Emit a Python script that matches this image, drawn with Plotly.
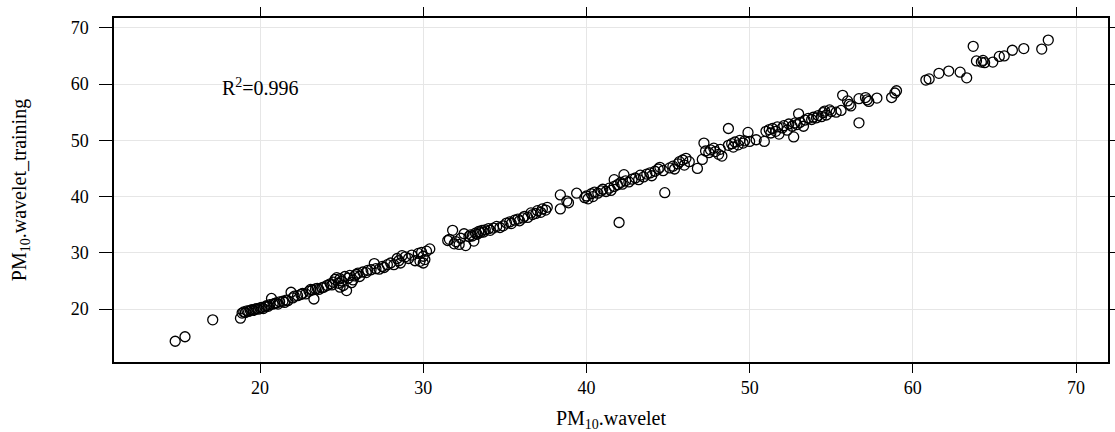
import plotly.graph_objects as go

pm10_wavelet = [
    14.8, 15.4, 17.1, 18.8, 18.9, 19.0,
    19.1, 19.2, 19.3, 19.4, 19.5, 19.6, 19.7, 19.8, 19.9, 20.0, 20.1, 20.2, 20.3, 20.4,
    20.5, 20.6, 20.7, 20.8, 20.9, 21.0, 21.1, 21.2, 21.4, 21.5, 21.6, 21.7, 21.9, 22.0,
    22.1, 22.3, 22.5, 22.6, 22.8, 23.0, 23.1, 23.2, 23.3, 23.4, 23.5, 23.6, 23.8, 23.9,
    24.1, 24.3, 24.4, 24.5, 24.6, 24.7, 24.8, 24.9, 24.9, 25.0, 25.1, 25.2, 25.3, 25.4,
    25.5, 25.6, 25.7, 25.8, 25.9, 26.0, 26.1, 26.3, 26.5, 26.6, 26.8, 27.0, 27.1, 27.3,
    27.5, 27.6, 27.8, 28.0, 28.2, 28.4, 28.5, 28.6, 28.7, 28.9, 29.1, 29.3, 29.5, 29.7,
    29.8, 29.9, 30.0, 30.0, 30.1, 30.2, 30.4,
    31.5, 31.6, 31.8, 31.9, 32.0, 32.2, 32.3, 32.5, 32.6, 32.8, 32.9, 33.0, 33.1, 33.2,
    33.3, 33.4, 33.5, 33.6, 33.7, 33.8, 34.0, 34.1, 34.3, 34.5, 34.7, 34.9, 35.1, 35.3,
    35.4, 35.6, 35.8, 35.9, 36.1, 36.2, 36.4, 36.6, 36.7, 36.9, 37.0, 37.2, 37.3, 37.5,
    37.6, 38.4, 38.4, 38.8, 38.9, 39.4,
    39.9, 40.0, 40.1, 40.3, 40.4, 40.5, 40.7, 40.9, 41.0, 41.2, 41.4, 41.5, 41.7, 41.7,
    41.9, 42.0, 42.1, 42.2, 42.3, 42.4, 42.6, 42.8, 43.0, 43.2, 43.3, 43.5, 43.7, 43.9,
    44.0, 44.2, 44.4, 44.5, 44.7, 44.8, 45.1, 45.3, 45.4, 45.6, 45.7, 45.9, 46.0, 46.1,
    46.3, 46.8,
    47.1, 47.2, 47.3, 47.5, 47.6, 47.8, 47.9, 48.1, 48.2, 48.3, 48.7, 48.7, 48.9, 49.0,
    49.1, 49.3, 49.4, 49.6, 49.7, 49.9, 50.0, 50.4,
    50.9, 51.0, 51.2, 51.3, 51.4, 51.6, 51.7, 51.8, 52.0, 52.1, 52.3, 52.4, 52.6, 52.7,
    52.8, 52.9, 53.0, 53.1, 53.3, 53.4, 53.6, 53.8, 53.9, 54.1, 54.2, 54.4, 54.5, 54.6,
    54.7, 54.9, 55.0, 55.3, 55.6, 55.7, 56.0, 56.1, 56.2, 56.7, 56.7, 57.1, 57.2, 57.3,
    57.8, 58.7, 58.9, 59.0,
    60.8, 61.0, 61.6, 62.2, 62.9, 63.3, 63.7, 63.9, 64.2, 64.3, 64.4, 64.9, 65.3, 65.6,
    66.1, 66.8, 67.9, 68.3,
]

pm10_wavelet_training = [
    14.3, 15.1, 18.1, 18.4, 19.3, 19.5,
    19.4, 19.7, 19.6, 19.8, 19.9, 19.8, 20.0, 20.1, 20.0, 20.2, 20.3, 20.1, 20.4, 20.6,
    20.5, 20.8, 21.9, 20.9, 21.0, 21.1, 20.9, 21.3, 21.4, 21.2, 21.6, 21.5, 23.0, 22.0,
    22.3, 22.4, 22.6, 22.8, 22.7, 23.2, 23.5, 23.4, 21.8, 23.6, 23.7, 23.5, 23.8, 23.9,
    24.2, 24.5, 24.3, 24.8, 25.3, 25.6, 24.6, 23.9, 25.4, 25.0, 24.2, 25.8, 23.3, 25.5,
    26.0, 24.7, 25.2, 25.9, 26.2, 26.4, 25.8, 26.6, 26.5, 26.9, 27.0, 28.1, 27.2, 27.1,
    27.6, 27.4, 27.9, 28.2, 27.9, 29.0, 28.6, 28.2, 29.5, 29.3, 29.0, 29.6, 28.6, 29.9,
    28.5, 30.1, 29.4, 28.2, 28.8, 30.3, 30.7,
    32.2, 32.4, 34.0, 31.6, 32.0, 31.5, 32.6, 33.4, 31.3, 32.9, 33.2, 33.0, 32.1, 33.5,
    33.3, 33.8, 33.6, 34.0, 33.7, 34.1, 34.3, 34.0, 34.4, 34.7, 34.5, 34.8, 35.3, 35.5,
    35.2, 35.8, 36.0, 35.7, 36.2, 36.5, 36.3, 37.1, 36.8, 37.0, 37.5, 37.2, 37.8, 37.6,
    38.1, 40.3, 37.8, 39.2, 38.9, 40.6,
    39.8, 40.1, 39.6, 40.5, 40.0, 40.8, 40.6, 41.0, 41.3, 40.9, 41.5, 41.1, 41.8, 43.0,
    42.1, 35.4, 42.5, 42.2, 43.9, 42.8, 42.6, 43.1, 43.3, 43.0, 43.8, 43.5, 44.0, 44.2,
    43.7, 44.5, 44.9, 45.2, 44.6, 40.7, 45.1, 45.4, 44.9, 45.8, 46.2, 46.5, 45.6, 46.8,
    46.2, 45.0,
    46.6, 49.5, 48.1, 47.8, 48.3, 48.6, 48.0, 47.5, 48.4, 47.2, 52.1, 49.1, 49.4, 48.8,
    49.7, 49.2, 50.0, 49.5, 49.9, 51.4, 49.8, 50.1,
    49.8, 51.6, 51.9, 51.3, 52.1, 51.6, 52.4, 51.1, 52.2, 52.6, 51.8, 52.9, 52.5, 50.6,
    53.1, 52.8, 54.7, 53.2, 52.5, 53.6, 53.9, 53.7, 54.1, 54.0, 54.4, 54.2, 54.9, 55.2,
    54.5, 55.4, 55.1, 55.0, 55.3, 58.0, 57.0, 56.4, 56.1, 53.1, 57.4, 57.6, 57.2, 56.9,
    57.5, 57.6, 58.4, 58.8,
    60.7, 60.9, 61.9, 62.3, 62.1, 61.1, 66.7, 64.1, 63.9, 64.2, 63.8, 63.9, 64.9, 65.0,
    66.0, 66.3, 66.2, 67.8,
]

x_ticks = [20, 30, 40, 50, 60, 70]
y_ticks = [20, 30, 40, 50, 60, 70]
r2_label = "R<sup>2</sup>=0.996"

FONT = "Liberation Serif, Times New Roman, serif"

fig = go.Figure()
fig.add_trace(go.Scatter(
    x=pm10_wavelet, y=pm10_wavelet_training, mode="markers",
    marker=dict(symbol="circle-open", size=10, color="black", line=dict(width=1.3, color="black")),
    showlegend=False, hoverinfo="x+y",
))

fig.add_annotation(x=20.0, y=59.4, xref="x", yref="y", text=r2_label, showarrow=False,
                   font=dict(family=FONT, size=20, color="black"))

axis_common = dict(
    showline=True, linecolor="black", linewidth=1.5, mirror="ticks",
    ticks="outside", tickcolor="black", tickwidth=1.3,
    showgrid=True, gridcolor="#e6e6e6", gridwidth=1, zeroline=False,
    tickfont=dict(family=FONT, size=18, color="black"),
    automargin=False,
)

fig.update_xaxes(range=[11.05, 71.96], tickvals=x_ticks, ticklen=9,
                 title=dict(text="PM<sub>10</sub>.wavelet", font=dict(family=FONT, size=20, color="black"), standoff=16),
                 **axis_common)
fig.update_yaxes(range=[10.61, 71.73], tickvals=y_ticks, ticklen=13, ticklabelstandoff=7,
                 title=dict(text="PM<sub>10</sub>.wavelet_training", font=dict(family=FONT, size=20, color="black"), standoff=39),
                 **axis_common)

fig.update_layout(
    width=1115, height=432,
    autosize=False,
    margin=dict(l=114, r=7, t=18, b=70),
    paper_bgcolor="white", plot_bgcolor="white",
    font=dict(family=FONT, color="black"),
)

post = (
    "document.documentElement.style.overflow='hidden';"
    "document.body.style.overflow='hidden';"
    "document.body.style.margin='0';"
    "var gd=document.getElementById('{plot_id}');"
    "Plotly.relayout(gd,{width:1115,height:432});"
)

fig.write_html("out.html", config={"responsive": False}, post_script=post)
